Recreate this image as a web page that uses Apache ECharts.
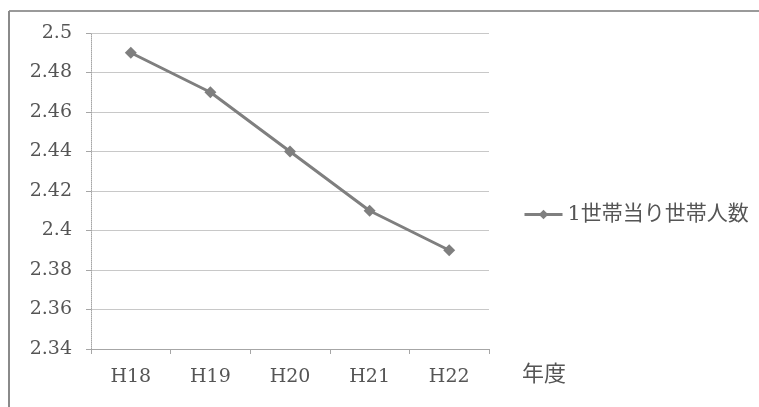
<!DOCTYPE html>
<html>
<head>
<meta charset="utf-8">
<script src="https://cdn.jsdelivr.net/npm/echarts@6/dist/echarts.min.js"></script>
<style>
  html, body { margin: 0; padding: 0; background: #ffffff; }
  #chart { width: 759px; height: 407px; }
</style>
</head>
<body>
<div id="chart"></div>
<script>
// Fiscal years (Heisei) and average persons per household
const years = ['H18', 'H19', 'H20', 'H21', 'H22'];
const personsPerHousehold = [2.49, 2.47, 2.44, 2.41, 2.39];
const seriesName = '1世帯当り世帯人数';
const axisName = '年度';
const yTicks = { min: 2.34, max: 2.5, step: 0.02 };

const serif = "'DejaVu Serif', 'Noto Sans CJK JP', serif";
const textGray = '#555555';

const chart = echarts.init(document.getElementById('chart'), null, { renderer: 'canvas' });

chart.setOption({
  backgroundColor: '#ffffff',
  animation: false,
  grid: { left: 91, top: 33, width: 398, height: 316, containLabel: false },
  legend: {
    data: [seriesName],
    left: 518,
    top: 199,
    itemWidth: 38,
    itemHeight: 12,
    itemGap: 10,
    textStyle: { color: textGray, fontSize: 21, fontFamily: serif },
    itemStyle: { color: '#7f7f7f' },
    lineStyle: { color: '#7f7f7f', width: 3 }
  },
  xAxis: {
    type: 'category',
    data: years,
    boundaryGap: true,
    axisLine: { lineStyle: { color: '#a6a6a6', width: 1 } },
    axisTick: { show: true, length: 5, lineStyle: { color: '#a6a6a6' } },
    axisLabel: { color: textGray, fontSize: 19, fontFamily: serif, margin: 19 },
    splitLine: { show: false }
  },
  yAxis: {
    type: 'value',
    min: yTicks.min,
    max: yTicks.max,
    interval: yTicks.step,
    axisLine: { show: true, lineStyle: { color: '#a6a6a6', width: 1, type: 'dotted' } },
    axisTick: { show: true, length: 5, lineStyle: { color: '#a6a6a6' } },
    axisLabel: {
      color: textGray, fontSize: 19, fontFamily: serif, margin: 19,
      formatter: v => String(parseFloat(v.toFixed(2)))
    },
    splitLine: { show: true, lineStyle: { color: '#c8c8c8', width: 1 } }
  },
  series: [{
    name: seriesName,
    type: 'line',
    data: personsPerHousehold,
    symbol: 'diamond',
    symbolSize: 12,
    itemStyle: { color: '#7f7f7f' },
    lineStyle: { color: '#7f7f7f', width: 3 }
  }],
  graphic: [
    // frame: top and left edges of the chart box
    { type: 'line', shape: { x1: 9, y1: 11, x2: 759, y2: 11 }, style: { stroke: '#9a9a9a', lineWidth: 2 } },
    { type: 'line', shape: { x1: 9, y1: 11, x2: 9, y2: 407 }, style: { stroke: '#8a8a8a', lineWidth: 2 } },
    {
      type: 'text', left: 522, top: 362,
      style: { text: axisName, fill: textGray, font: "22px 'Noto Sans CJK JP', sans-serif" }
    }
  ]
});
</script>
</body>
</html>
